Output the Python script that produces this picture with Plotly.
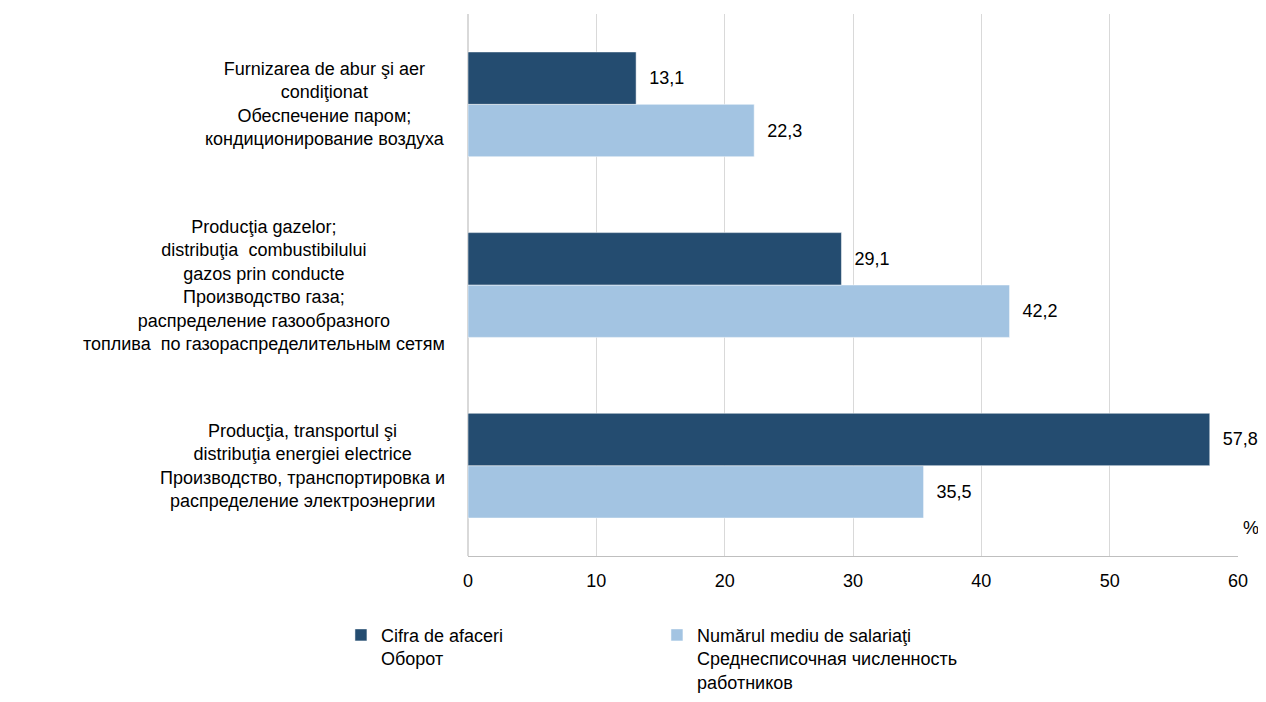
import plotly.graph_objects as go

categorii = [
    "Producţia, transportul şi<br>distribuţia energiei electrice<br>Производство, транспортировка и<br>распределение электроэнергии",
    "Producţia gazelor;<br>distribuţia  combustibilului<br>gazos prin conducte<br>Производство газа;<br>распределение газообразного<br>топлива  по газораспределительным сетям",
    "Furnizarea de abur şi aer<br>condiţionat<br>Обеспечение паром;<br>кондиционирование воздуха",
]
cifra_afaceri = [57.8, 29.1, 13.1]
salariati = [35.5, 42.2, 22.3]
chei = ["c1", "c2", "c3"]

nume_afaceri = "Cifra de afaceri<br>Оборот"
nume_salariati = "Numărul mediu de salariaţi<br>Среднесписочная численность<br>работников"

fig = go.Figure()

fig.add_bar(
    name=nume_salariati,
    y=chei,
    x=salariati,
    orientation="h",
    marker_color="#A3C4E2",
    texttemplate="  %{x:.1f}",
    textposition="outside",
    cliponaxis=False,
    legendrank=2
)

fig.add_bar(
    name=nume_afaceri,
    y=chei,
    x=cifra_afaceri,
    orientation="h",
    marker_color="#244C70",
    texttemplate="  %{x:.1f}",
    textposition="outside",
    cliponaxis=False,
    legendrank=1
)

for cheie, eticheta in zip(chei, categorii):
    fig.add_annotation(
        x=-0.027,
        xref="paper",
        y=cheie,
        yref="y",
        text=eticheta,
        showarrow=False,
        xanchor="right",
        align="center",
        font=dict(size=18)
    )

fig.add_annotation(
    x=1.0,
    xref="paper",
    y=0.03,
    yref="paper",
    text="%",
    showarrow=False,
    xanchor="left",
    xshift=3,
    font=dict(size=18)
)

# pagina are margine de 8px, deci marginile sunt compensate
fig.update_layout(
    template="plotly_white",
    separators=", ",
    barmode="group",
    bargap=0.42,
    bargroupgap=0,
    font=dict(family="Liberation Sans, Arial, sans-serif", size=18, color="#000000"),
    plot_bgcolor="white",
    paper_bgcolor="white",
    margin=dict(l=460, r=20, t=6, b=138, autoexpand=False),
    xaxis=dict(
        range=[0, 60],
        dtick=10,
        showgrid=True,
        gridcolor="#D9D9D9",
        gridwidth=1,
        zeroline=True,
        zerolinecolor="#D9D9D9",
        showline=True,
        linecolor="#BFBFBF",
        ticks="",
        ticklabelstandoff=8,
        automargin=False,
        tickfont=dict(size=18)
    ),
    yaxis=dict(
        showticklabels=False,
        showgrid=False,
        zeroline=False,
        showline=False,
        automargin=False
    ),
    legend=dict(
        orientation="h",
        x=-0.165,
        xanchor="left",
        y=-0.112,
        yanchor="top",
        valign="top",
        entrywidth=271,
        itemwidth=30,
        font=dict(size=18)
    ),
    showlegend=True
)

fig.write_html("out.html")
